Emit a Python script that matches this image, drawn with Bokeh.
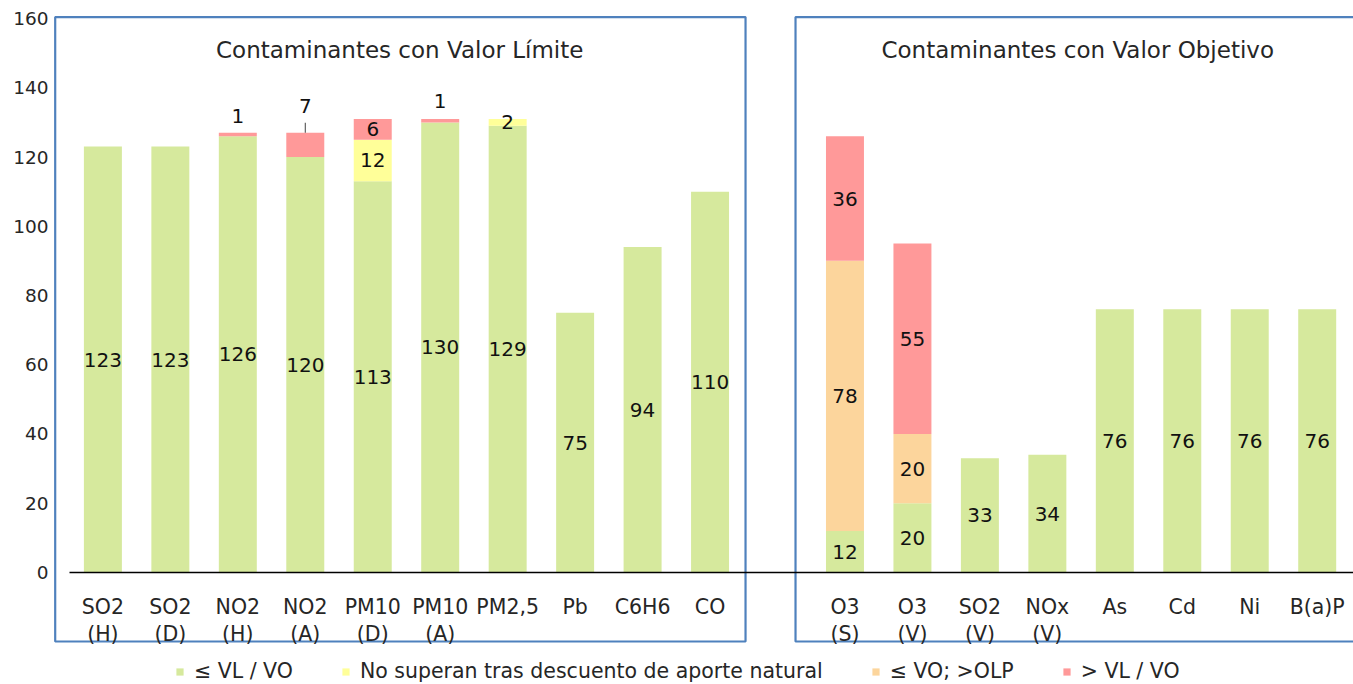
from bokeh.plotting import figure
from bokeh.models import Range1d, FixedTicker, ColumnDataSource
from bokeh.core.properties import value
from bokeh.embed import file_html
from bokeh.resources import INLINE

# ---------------- data ----------------
limit_categories = ["SO2\n(H)", "SO2\n(D)", "NO2\n(H)", "NO2\n(A)", "PM10\n(D)",
                    "PM10\n(A)", "PM2,5", "Pb", "C6H6", "CO"]
objective_categories = ["O3\n(S)", "O3\n(V)", "SO2\n(V)", "NOx\n(V)", "As", "Cd", "Ni", "B(a)P"]

# values: limit group (10) followed by objective group (8)
below_limit = [123, 123, 126, 120, 113, 130, 129, 75, 94, 110,
               12, 20, 33, 34, 76, 76, 76, 76]
natural_discount = [0, 0, 0, 0, 12, 0, 2, 0, 0, 0,
                    0, 0, 0, 0, 0, 0, 0, 0]
below_objective_above_olp = [0, 0, 0, 0, 0, 0, 0, 0, 0, 0,
                             78, 20, 0, 0, 0, 0, 0, 0]
above_limit = [0, 0, 1, 7, 6, 1, 0, 0, 0, 0,
               36, 55, 0, 0, 0, 0, 0, 0]

series_names = ["≤ VL / VO", "No superan tras descuento de aporte natural",
                "≤ VO; >OLP", "> VL / VO"]
group_titles = ["Contaminantes con Valor Límite", "Contaminantes con Valor Objetivo"]
y_ticks = [0, 20, 40, 60, 80, 100, 120, 140, 160]

# ---------------- style / layout ----------------
colors = ["#D6E99D", "#FFFF99", "#FCD59C", "#FF9999"]
FONT = value("DejaVu Sans")
TEXT_COLOR = "#262626"
BOX_COLOR = "#4F81BD"
W, H = 1353, 684
Y0, Y1 = -32.35, 165.2
X0, X1 = -0.747, 18.538
px_per_unit = H / (Y1 - Y0)

categories = limit_categories + objective_categories
xs = list(range(len(limit_categories))) + \
     [len(limit_categories) + 1 + i for i in range(len(objective_categories))]

series = [below_limit, natural_discount, below_objective_above_olp, above_limit]
keys = ["s0", "s1", "s2", "s3"]
src = ColumnDataSource(dict(x=xs, **{k: v for k, v in zip(keys, series)}))

p = figure(width=W, height=H, x_range=Range1d(X0, X1), y_range=Range1d(Y0, Y1),
           toolbar_location=None, output_backend="svg", x_axis_location=None,
           min_border_left=52, min_border_right=0, min_border_top=0, min_border_bottom=0,
           outline_line_color=None, background_fill_color="white", border_fill_color="white")
p.xgrid.visible = False
p.ygrid.visible = False

# y axis
p.yaxis.ticker = FixedTicker(ticks=y_ticks)
p.yaxis.axis_line_color = None
p.yaxis.major_tick_line_color = None
p.yaxis.minor_tick_line_color = None
p.yaxis.major_tick_out = 0
p.yaxis.major_tick_in = 0
p.yaxis.major_label_standoff = 4
p.yaxis.major_label_text_font = "DejaVu Sans"
p.yaxis.major_label_text_font_size = "18.5px"
p.yaxis.major_label_text_color = TEXT_COLOR

# group frames
p.quad(left=[-0.707, 10.267], right=[9.526, 19.5], top=[160.4, 160.4], bottom=[-19.93, -19.93],
       fill_alpha=0, line_color=BOX_COLOR, line_width=2.2)

# stacked bars
p.vbar_stack(keys, x="x", width=0.563, color=colors, source=src, line_width=0,
             legend_label=series_names)

# zero axis line
p.segment(x0=[-0.495], y0=[0], x1=[19], y1=[0], line_color="black", line_width=1.5)

# data labels
label_above_px = {(2, 3): 17, (3, 3): 27, (5, 3): 18}
leader_for = {(3, 3): 10}
lx, ly, lt, loff = [], [], [], []
for j, x in enumerate(xs):
    base = 0
    for s, vals in enumerate(series):
        v = vals[j]
        if v > 0:
            if (j, s) in label_above_px:
                top = base + v
                lx.append(x); ly.append(top); lt.append(str(v)); loff.append(-label_above_px[(j, s)])
                if (j, s) in leader_for:
                    p.segment(x0=[x], y0=[top], x1=[x], y1=[top + leader_for[(j, s)] / px_per_unit],
                              line_color="#404040", line_width=1)
            else:
                lx.append(x); ly.append(base + v / 2); lt.append(str(v)); loff.append(0)
        base += v
p.text(x=lx, y=ly, text=lt, y_offset=loff, text_font=FONT, text_font_size="20px",
       text_align="center", text_baseline="middle", text_color="#111111")

# category labels (two lines)
line1 = [c.split("\n")[0] for c in categories]
line2 = [c.split("\n")[1] if "\n" in c else "" for c in categories]
p.text(x=xs, y=[-10.02] * len(xs), text=line1, text_font=FONT, text_font_size="20.5px",
       text_align="center", text_baseline="alphabetic", text_color=TEXT_COLOR)
p.text(x=xs, y=[-17.9] * len(xs), text=line2, text_font=FONT, text_font_size="20.5px",
       text_align="center", text_baseline="alphabetic", text_color=TEXT_COLOR)

# group titles
p.text(x=[4.4, 14.45], y=[150.76, 150.76], text=group_titles, text_font=FONT,
       text_font_size="23px", text_align="center", text_baseline="alphabetic",
       text_color=TEXT_COLOR)

# legend
lg = p.legend[0]
lg.orientation = "horizontal"
lg.location = (123, 1)
lg.glyph_width = 9
lg.glyph_height = 9
lg.label_standoff = 10
lg.spacing = 48
lg.padding = 0
lg.margin = 0
lg.border_line_color = None
lg.background_fill_alpha = 0
lg.label_text_font = "DejaVu Sans"
lg.label_text_font_size = "20.5px"
lg.label_text_color = TEXT_COLOR

open("out.html", "w").write(file_html(p, INLINE))
